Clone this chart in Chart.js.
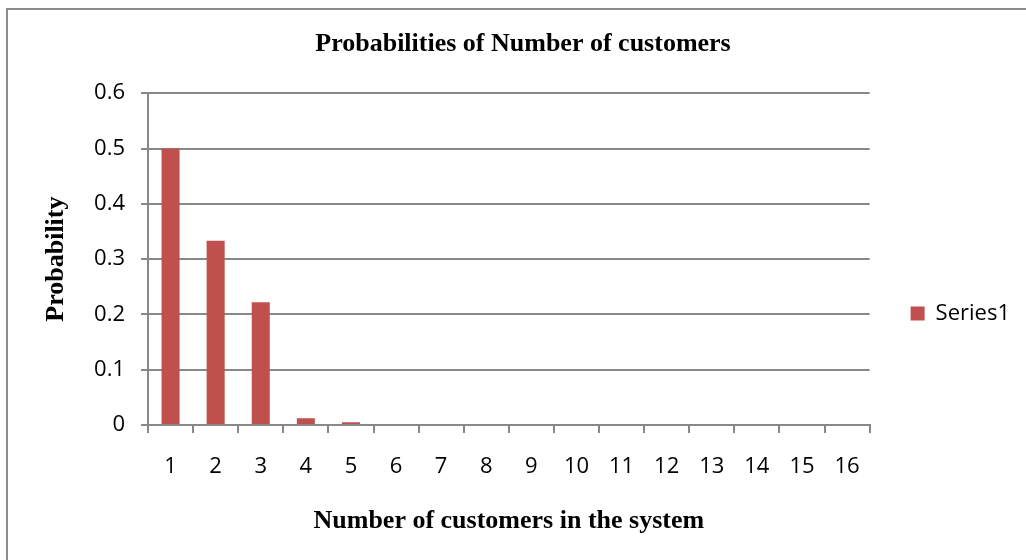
<!DOCTYPE html>
<html>
<head>
<meta charset="utf-8">
<script src="https://cdn.jsdelivr.net/npm/chart.js@4"></script>
<style>
  html, body { margin: 0; padding: 0; background: #fff; overflow: hidden; }
  #wrap { position: relative; width: 1026px; height: 560px; }
  #frame { position: absolute; left: 6px; top: 8px; width: 1100px; height: 600px;
           border-left: 2px solid #8c8c8c; border-top: 2px solid #8c8c8c; }
</style>
</head>
<body>
<div id="wrap">
  <div id="frame"></div>
  <canvas id="chart"></canvas>
</div>
<script>
// Number of customers in the system
const customers = ['1', '2', '3', '4', '5', '6', '7', '8', '9', '10', '11', '12', '13', '14', '15', '16'];
// Probability
const probabilities = [0.5, 0.333, 0.222, 0.012, 0.005, 0, 0, 0, 0, 0, 0, 0, 0, 0, 0, 0];
const yTicks = [0, 0.1, 0.2, 0.3, 0.4, 0.5, 0.6];

const serif = '"Liberation Serif", "Times New Roman", serif';
const sans = '"Open Sans", "Liberation Sans", sans-serif';
const gray = '#888888';

// plot area edges in the reference
const padLeft = 26;
const plotLeft = 148;
const plotBottom = 425;

const ctx = document.getElementById('chart').getContext('2d');
new Chart(ctx, {
    type: 'bar',
    data: {
        labels: customers,
        datasets: [{
            label: 'Series1',
            data: probabilities,
            backgroundColor: '#C0504D',
            borderWidth: 0,
            categoryPercentage: 1.0,
            barPercentage: 0.4
        }]
    },
    options: {
        responsive: true,
        maintainAspectRatio: false,
        animation: false,
        layout: {
            padding: { left: padLeft, right: 6, top: 0, bottom: 0 }
        },
        plugins: {
            title: {
                display: true,
                text: 'Probabilities of Number of customers',
                color: '#000',
                font: { family: serif, size: 26, weight: 'bold' },
                padding: { top: 29, bottom: 33 }
            },
            legend: {
                position: 'right',
                // empty title only pushes the single item down
                title: { display: true, text: '', padding: { top: 66, bottom: 0 }, font: { size: 1 } },
                labels: {
                    color: '#000',
                    font: { family: sans, size: 22 },
                    boxWidth: 14,
                    boxHeight: 14,
                    padding: 41
                }
            },
            tooltip: { enabled: false }
        },
        scales: {
            x: {
                offset: true,
                afterFit: (scale) => { scale.height = 560 - plotBottom; },
                grid: {
                    offset: true,
                    drawOnChartArea: false,
                    color: gray,
                    lineWidth: 2,
                    tickLength: 8
                },
                border: { color: gray, width: 2 },
                ticks: {
                    color: '#000',
                    font: { family: sans, size: 22 },
                    padding: 21,
                    maxRotation: 0
                },
                title: {
                    display: true,
                    text: 'Number of customers in the system',
                    color: '#000',
                    font: { family: serif, size: 26, weight: 'bold' },
                    padding: { top: 0, bottom: 23 }
                }
            },
            y: {
                min: 0,
                max: 0.6,
                afterFit: (scale) => { scale.width = plotLeft - padLeft; },
                afterBuildTicks: (scale) => {
                    scale.ticks = yTicks.map(v => ({ value: v }));
                },
                grid: {
                    color: gray,
                    lineWidth: 2,
                    tickLength: 7
                },
                border: { color: gray, width: 2 },
                ticks: {
                    color: '#000',
                    font: { family: sans, size: 22 },
                    padding: 16,
                    callback: (v) => String(parseFloat(Number(v).toFixed(1)))
                },
                title: {
                    display: true,
                    text: 'Probability',
                    color: '#000',
                    font: { family: serif, size: 26, weight: 'bold' },
                    padding: { top: 15, bottom: 0 }
                }
            }
        }
    }
});
</script>
</body>
</html>
